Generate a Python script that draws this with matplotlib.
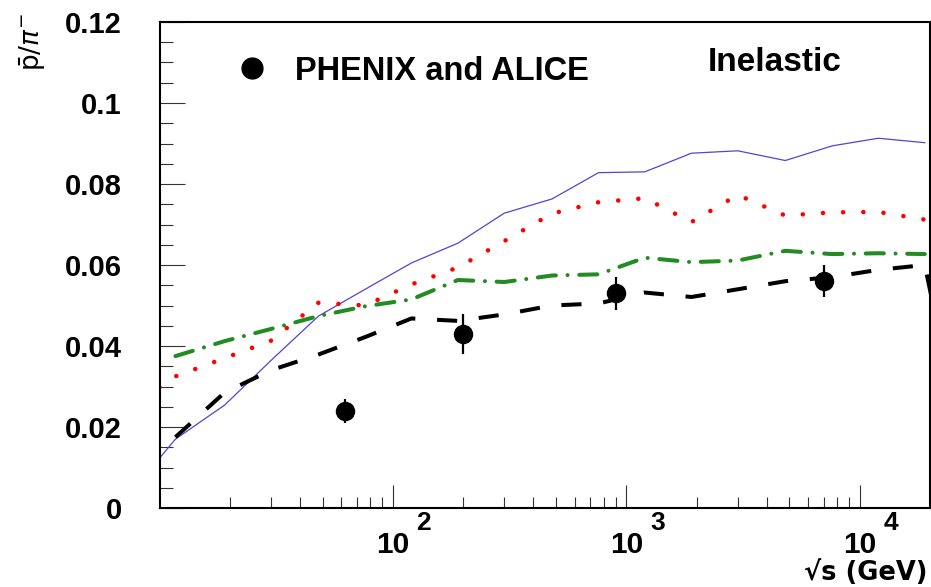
import matplotlib
matplotlib.use("Agg")
import matplotlib.pyplot as plt
from matplotlib.lines import Line2D
from matplotlib.ticker import LogLocator, MultipleLocator, FuncFormatter, NullFormatter, FixedLocator

# ---------------- data ----------------
energy = [11.7, 19, 30, 48, 76, 120, 190, 300, 480, 760, 1200, 1900, 3000, 4800, 7600, 12000, 19000]

blue_x = [10] + energy
blue_y = [0.0123, 0.0170, 0.0254, 0.0364, 0.0474, 0.0540, 0.0605, 0.0654, 0.0728, 0.0763,
          0.0828, 0.0830, 0.0876, 0.0882, 0.0858, 0.0894, 0.0913, 0.0902]

red_x = [10] + energy
red_y = [0.0298, 0.0325, 0.0370, 0.0413, 0.0507, 0.0500, 0.0552, 0.0594, 0.0659, 0.0727,
         0.0755, 0.0765, 0.0706, 0.0773, 0.0722, 0.0730, 0.0731, 0.0712]

green_x = energy
green_y = [0.0375, 0.0412, 0.0442, 0.0474, 0.0498, 0.0515, 0.0563, 0.0558, 0.0574, 0.0577,
           0.0618, 0.0607, 0.0611, 0.0635, 0.0627, 0.0629, 0.0627]

black_x = energy + [21000]
black_y = [0.0175, 0.0285, 0.0340, 0.0379, 0.0422, 0.0468, 0.0462, 0.0478, 0.0500, 0.0505,
           0.0532, 0.0521, 0.0540, 0.0560, 0.0570, 0.0588, 0.0600, 0.0480]

data_x = [62.4, 200, 900, 7000]
data_y = [0.024, 0.043, 0.053, 0.056]
data_err = [0.003, 0.005, 0.004, 0.004]

y_ticks = [0, 0.02, 0.04, 0.06, 0.08, 0.1, 0.12]
x_decades = [100, 1000, 10000]
x_decade_exp = ["2", "3", "4"]

legend_label = "PHENIX and ALICE"
panel_label = "Inelastic"
x_title = "\u221as (GeV)"
y_title = r"$\bar{\mathrm{p}}/\pi^{-}$"

# ---------------- figure ----------------
plt.rcParams['font.family'] = ['Liberation Sans', 'DejaVu Sans']

W, H = 931, 587
fig = plt.figure(figsize=(W / 100, H / 100), dpi=100)
ax = fig.add_axes([159.5 / W, (H - 508) / H, 770.5 / W, 486 / H])

ax.set_xscale('log')
ax.set_xlim(10, 20000)
ax.set_ylim(0, 0.12)

ax.plot(blue_x, blue_y, color='#5244d4', lw=0.9, zorder=2)
ax.plot(red_x, red_y, color='#ff0000', lw=3.3, dashes=(0.01, 4.4),
        dash_capstyle='round', zorder=2)
ax.plot(green_x, green_y, color='#228b22', lw=2.9, dashes=(4.5, 2.9, 0.01, 2.9),
        dash_capstyle='round', zorder=3)
ax.plot(black_x, black_y, color='black', lw=2.9, dashes=(5.0, 5.4),
        dash_capstyle='butt', zorder=3)

ax.errorbar(data_x, data_y, yerr=data_err, fmt='o', color='black', ms=13,
            elinewidth=1.6, capsize=0, zorder=5)

# spines
for s in ax.spines.values():
    s.set_linewidth(1.5)

# ticks
ax.yaxis.set_major_locator(FixedLocator(y_ticks))
ax.yaxis.set_minor_locator(MultipleLocator(0.005))
ax.yaxis.set_major_formatter(FuncFormatter(lambda v, p: "%g" % v))
ax.xaxis.set_major_locator(FixedLocator(x_decades))
ax.xaxis.set_minor_locator(LogLocator(base=10, subs=range(2, 10), numticks=20))
ax.xaxis.set_major_formatter(NullFormatter())
ax.xaxis.set_minor_formatter(NullFormatter())

ax.tick_params(axis='y', which='major', direction='in', length=18, width=0.8,
               color='#333333', right=False, pad=27, labelsize=21)
ax.tick_params(axis='y', which='minor', direction='in', length=9.4, width=0.8,
               color='#333333', right=False)
ax.tick_params(axis='x', which='major', direction='in', length=16.5, width=0.8,
               color='#333333', top=False)
ax.tick_params(axis='x', which='minor', direction='in', length=8, width=0.8,
               color='#333333', top=False)
for lab in ax.get_yticklabels():
    lab.set_fontweight('bold')

# x decade labels "10" with superscript exponent
for xv, ex in zip(x_decades, x_decade_exp):
    ax.annotate("10", xy=(xv, 0), xycoords=('data', 'axes fraction'),
                xytext=(0, -32.2), textcoords='offset points',
                ha='center', va='baseline', fontsize=21.5, fontweight='bold')
    ax.annotate(ex, xy=(xv, 0), xycoords=('data', 'axes fraction'),
                xytext=(17, -15.8), textcoords='offset points',
                ha='left', va='baseline', fontsize=19, fontweight='bold')

# axis titles
fig.text(927 / W, 1 - 579.5 / H, x_title, ha='right', va='baseline',
         fontsize=18.5, fontweight='bold', family=['DejaVu Sans'])
fig.text(33 / W, 1 - 42 / H, y_title, rotation=90, ha='center', va='center',
         fontsize=19, fontweight='normal')

# panel label
ax.text((708 - 159.5) / 770.5, (508 - 70.7) / 486, panel_label,
        transform=ax.transAxes, ha='left', va='baseline', fontsize=24,
        fontweight='bold')

# legend (marker-only handle, like the reference)
fs = 23.5
handle = Line2D([], [], marker='o', ls='none', color='black', ms=15)
ax.legend([handle], [legend_label], loc='center left',
          bbox_to_anchor=((236 - 159.5) / 770.5, (508 - 71) / 486),
          frameon=False, handlelength=1.0, handletextpad=0.8,
          borderpad=0, borderaxespad=0, numpoints=1,
          prop={'weight': 'bold', 'size': fs, 'family': ['Liberation Sans', 'DejaVu Sans']})

fig.savefig("out.png", dpi=100)
